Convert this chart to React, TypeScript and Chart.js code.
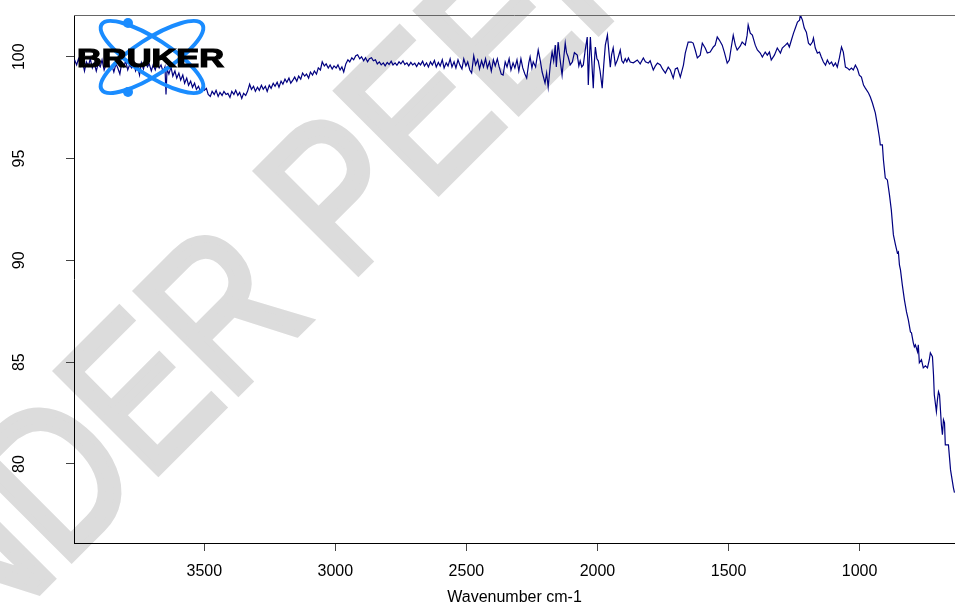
import React, { useEffect, useRef } from 'react';
import { Chart, registerables } from 'chart.js';

Chart.register(...registerables);

// ---- Axis ticks and labels ----
const xTickValues = [3500, 3000, 2500, 2000, 1500, 1000];
const yTickValues = [80, 85, 90, 95, 100];
const xAxisTitle = 'Wavenumber cm-1';
const watermarkText = 'UNDER PEER REVIEW';
const logoText = 'BRUKER';

// ---- Spectrum (wavenumber cm-1, transmittance %) ----
const spectrum4000to3400 = [
  [3995, 99.85], [3987, 99.6], [3980, 99.9], [3972, 99.55], [3965, 99.8], [3957, 99.3], [3950, 99.75], [3942, 99.55],
  [3935, 99.9], [3927, 99.45], [3920, 99.7], [3912, 99.3], [3905, 99.65], [3897, 99.5], [3890, 99.85], [3882, 99.35],
  [3875, 99.6], [3867, 99.75], [3860, 99.4], [3852, 99.55], [3845, 99.25], [3837, 99.65], [3830, 99.45], [3822, 99.15],
  [3815, 99.7], [3807, 99.5], [3800, 99.8], [3792, 99.35], [3785, 99.6], [3777, 99.45], [3770, 99.75], [3762, 99.3],
  [3755, 99.55], [3747, 99.1], [3740, 99.7], [3732, 99.4], [3725, 99.8], [3717, 99.5], [3710, 99.65], [3702, 99.3],
  [3695, 99.6], [3687, 99.35], [3680, 99.7], [3672, 99.45], [3665, 99.6], [3657, 99.25], [3650, 99.5], [3646, 98.15],
  [3642, 99.4], [3635, 99.15], [3627, 99.5], [3620, 99.05], [3612, 99.3], [3605, 98.95], [3597, 99.2], [3590, 98.85],
  [3582, 99.1], [3575, 98.7], [3567, 98.95], [3560, 98.6], [3552, 98.8], [3545, 98.5], [3537, 98.7], [3530, 98.4],
  [3522, 98.55], [3515, 98.3], [3507, 98.5], [3500, 98.35], [3492, 98.45], [3485, 98.15], [3477, 98.05], [3470, 98.3],
  [3462, 98.15], [3455, 98.35], [3447, 98.05], [3440, 98.25], [3432, 98.1], [3425, 98.3], [3417, 98.15], [3410, 98.2],
];

const spectrum3400to2850 = [
  [3402, 98.0], [3395, 98.3], [3387, 98.15], [3380, 98.35], [3372, 98.1], [3365, 98.25], [3357, 97.95], [3350, 98.2],
  [3342, 98.1], [3335, 98.3], [3327, 98.65], [3320, 98.4], [3312, 98.55], [3305, 98.3], [3297, 98.5], [3290, 98.35],
  [3282, 98.6], [3275, 98.4], [3267, 98.55], [3260, 98.3], [3252, 98.6], [3245, 98.45], [3237, 98.7], [3230, 98.55],
  [3222, 98.75], [3215, 98.5], [3207, 98.8], [3200, 98.65], [3192, 98.9], [3185, 98.75], [3177, 98.95], [3170, 98.7],
  [3162, 98.85], [3155, 99.0], [3147, 98.8], [3140, 99.05], [3132, 98.9], [3125, 99.2], [3117, 99.05], [3110, 99.15],
  [3102, 98.95], [3095, 99.25], [3087, 99.1], [3080, 99.3], [3072, 99.15], [3065, 99.45], [3057, 99.35], [3050, 99.75],
  [3042, 99.55], [3035, 99.65], [3027, 99.45], [3020, 99.6], [3012, 99.4], [3005, 99.55], [2997, 99.45], [2990, 99.6],
  [2982, 99.35], [2975, 99.5], [2968, 99.25], [2960, 99.65], [2952, 99.85], [2945, 99.75], [2937, 99.95], [2930, 99.85],
  [2922, 100.05], [2915, 100.1], [2907, 99.9], [2900, 100.0], [2892, 99.8], [2885, 99.95], [2877, 99.75], [2870, 99.9],
  [2862, 99.95], [2855, 99.8], [2847, 99.85],
];

const spectrum2850to2260 = [
  [2840, 99.65], [2832, 99.75], [2825, 99.6], [2817, 99.7], [2810, 99.55], [2802, 99.72], [2795, 99.62], [2787, 99.78],
  [2780, 99.6], [2772, 99.7], [2765, 99.58], [2757, 99.75], [2750, 99.65], [2742, 99.8], [2735, 99.62], [2727, 99.7],
  [2720, 99.55], [2712, 99.72], [2705, 99.6], [2697, 99.68], [2690, 99.52], [2682, 99.7], [2675, 99.6], [2667, 99.78],
  [2660, 99.55], [2652, 99.7], [2645, 99.5], [2637, 99.75], [2630, 99.6], [2622, 99.82], [2615, 99.5], [2607, 99.72],
  [2600, 99.55], [2592, 99.85], [2585, 99.45], [2577, 99.7], [2570, 99.55], [2562, 99.9], [2555, 99.5], [2547, 99.75],
  [2540, 99.45], [2532, 99.85], [2525, 99.6], [2517, 99.4], [2510, 99.9], [2502, 99.55], [2495, 99.75], [2487, 99.35],
  [2480, 99.2], [2472, 100.05], [2465, 99.6], [2457, 99.85], [2450, 99.4], [2442, 99.8], [2435, 99.5], [2427, 99.9],
  [2420, 99.45], [2412, 99.75], [2405, 99.3], [2397, 99.85], [2390, 99.55], [2382, 99.9], [2375, 99.5], [2367, 99.15],
  [2360, 99.1], [2352, 99.75], [2345, 99.5], [2337, 99.9], [2330, 99.35], [2322, 99.7], [2315, 99.45], [2307, 99.85],
  [2300, 99.3], [2292, 99.9], [2285, 99.45], [2277, 99.15], [2270, 98.95], [2262, 99.7],
];

const spectrum2260to1880 = [
  [2257, 99.99], [2250, 99.45], [2245, 99.75], [2236, 99.5], [2226, 100.33], [2218, 99.8], [2211, 99.25], [2200, 98.71],
  [2194, 99.2], [2188, 98.51], [2180, 99.6], [2173, 100.23], [2167, 99.8], [2161, 100.57], [2157, 99.5], [2150, 100.72],
  [2143, 99.9], [2135, 99.1], [2129, 99.9], [2123, 100.67], [2118, 100.2], [2112, 100.0], [2104, 99.6], [2096, 99.74],
  [2088, 100.2], [2077, 100.08], [2071, 99.55], [2066, 99.8], [2060, 99.5], [2054, 99.6], [2047, 100.3], [2039, 100.97],
  [2035, 98.61], [2031, 99.9], [2027, 100.97], [2021, 99.6], [2016, 98.46], [2012, 99.7], [2008, 100.48], [2002, 99.9],
  [1997, 99.8], [1990, 99.3], [1982, 98.46], [1976, 99.6], [1970, 100.57], [1962, 101.06], [1956, 100.2], [1951, 99.49],
  [1946, 100.1], [1940, 100.43], [1932, 99.6], [1924, 99.84], [1918, 100.1], [1913, 100.33], [1907, 99.8], [1901, 99.69],
  [1894, 99.9], [1888, 99.75], [1882, 99.94],
];

const spectrum1880to1660 = [
  [1875, 99.74], [1863, 99.7], [1848, 99.84], [1837, 99.65], [1825, 99.94], [1817, 99.75], [1806, 99.69], [1799, 99.8],
  [1787, 99.35], [1779, 99.55], [1771, 99.69], [1760, 99.6], [1752, 99.4], [1741, 99.2], [1730, 99.49], [1722, 99.35],
  [1711, 98.95], [1703, 99.4], [1695, 99.45], [1684, 99.0], [1672, 99.59], [1665, 100.18],
];

const spectrum1660to1000 = [
  [1654, 100.72], [1642, 100.72], [1635, 100.67], [1627, 100.33], [1619, 99.94], [1608, 100.08], [1600, 100.67], [1589, 100.43],
  [1581, 100.18], [1570, 100.23], [1558, 100.48], [1551, 100.57], [1543, 100.97], [1535, 100.82], [1524, 100.57], [1516, 100.23],
  [1505, 99.69], [1497, 99.84], [1490, 100.43], [1482, 101.06], [1474, 100.57], [1467, 100.33], [1455, 100.53], [1448, 100.72],
  [1436, 100.57], [1429, 101.06], [1425, 101.56], [1417, 101.16], [1409, 101.06], [1398, 100.57], [1390, 100.33], [1379, 100.18],
  [1371, 99.99], [1360, 100.23], [1352, 100.08], [1344, 100.23], [1337, 99.84], [1325, 100.08], [1314, 100.43], [1302, 100.18],
  [1295, 100.43], [1283, 100.57], [1275, 100.67], [1268, 100.48], [1260, 100.82], [1252, 101.16], [1245, 101.41], [1237, 101.7],
  [1229, 101.8], [1226, 102.05], [1218, 101.8], [1211, 101.41], [1203, 101.21], [1195, 100.67], [1188, 100.57], [1180, 100.72],
  [1176, 100.92], [1169, 100.43], [1161, 100.18], [1153, 100.23], [1146, 99.99], [1138, 99.74], [1130, 99.59], [1123, 99.84],
  [1115, 99.64], [1107, 99.74], [1100, 99.54], [1092, 99.69], [1085, 99.49], [1077, 99.94], [1069, 100.48], [1062, 100.23],
  [1054, 99.49], [1046, 99.44], [1039, 99.35], [1031, 99.44], [1024, 99.35], [1016, 99.59], [1008, 99.4], [1001, 99.1],
];

const spectrum1000to638 = [
  [993, 99.0], [985, 98.61], [978, 98.46], [966, 98.22], [959, 98.02], [951, 97.73], [940, 97.24], [932, 96.65],
  [924, 96.01], [921, 95.67], [913, 95.67], [909, 94.93], [902, 94.05], [894, 93.95], [886, 93.22], [879, 92.48],
  [871, 91.25], [863, 90.76], [856, 90.37], [852, 90.42], [848, 89.78], [844, 89.53], [837, 88.8], [829, 88.06],
  [821, 87.47], [814, 87.08], [806, 86.49], [802, 86.44], [795, 85.95], [791, 85.75], [787, 85.85], [779, 85.51],
  [776, 85.85], [772, 84.97], [764, 85.12], [757, 84.72], [749, 84.82], [741, 84.72], [734, 85.12], [730, 85.46],
  [722, 85.27], [718, 84.38], [715, 83.4], [707, 82.57], [703, 83.16], [699, 83.55], [695, 83.4], [688, 81.93],
  [684, 81.44], [680, 82.17], [676, 82.02], [673, 80.94], [665, 80.94], [661, 80.94], [653, 79.71], [650, 79.47],
  [642, 78.83], [638, 78.59],
];

const spectrumSegments = [
  spectrum4000to3400, spectrum3400to2850, spectrum2850to2260, spectrum2260to1880,
  spectrum1880to1660, spectrum1660to1000, spectrum1000to638,
];

const FONT = "'Liberation Sans', Arial, Helvetica, sans-serif";

const decorPlugin = {
  id: 'decor',
  beforeDraw(chart: any) {
    const ctx = chart.ctx as CanvasRenderingContext2D;
    ctx.save();
    ctx.fillStyle = '#ffffff';
    ctx.fillRect(0, 0, chart.width, chart.height);
    // watermark
    ctx.translate(-112, 742);
    ctx.rotate(-Math.PI / 4);
    ctx.scale(0.82, 1);
    ctx.font = `207px ${FONT}`;
    ctx.fillStyle = '#dcdcdc';
    ctx.strokeStyle = '#dcdcdc';
    ctx.lineWidth = 8;
    ctx.lineJoin = 'miter';
    ctx.textBaseline = 'alphabetic';
    ctx.textAlign = 'left';
    ctx.fillText(watermarkText, 0, 0);
    ctx.strokeText(watermarkText, 0, 0);
    ctx.restore();
  },
  afterDraw(chart: any) {
    const ctx = chart.ctx as CanvasRenderingContext2D;
    const area = chart.chartArea;
    ctx.save();
    // top frame line
    ctx.strokeStyle = '#666666';
    ctx.lineWidth = 1;
    ctx.beginPath();
    ctx.moveTo(area.left, area.top + 0.5);
    ctx.lineTo(area.right, area.top + 0.5);
    ctx.stroke();

    // Bruker logo
    const blue = '#1a8cff';
    ctx.strokeStyle = blue;
    ctx.lineWidth = 4;
    for (const ang of [33, -33]) {
      ctx.beginPath();
      ctx.ellipse(152, 57, 60, 18, (ang * Math.PI) / 180, 0, Math.PI * 2);
      ctx.stroke();
    }
    ctx.fillStyle = blue;
    for (const [cx, cy] of [[128, 23], [128, 92]]) {
      ctx.beginPath();
      ctx.arc(cx, cy, 5, 0, Math.PI * 2);
      ctx.fill();
    }
    ctx.font = `bold 26px ${FONT}`;
    const w = ctx.measureText(logoText).width;
    ctx.translate(77, 67);
    ctx.scale(147 / w, 1);
    ctx.fillStyle = '#000';
    ctx.strokeStyle = '#000';
    ctx.lineWidth = 1.2;
    ctx.textBaseline = 'alphabetic';
    ctx.textAlign = 'left';
    ctx.fillText(logoText, 0, 0);
    ctx.strokeText(logoText, 0, 0);
    ctx.restore();
  },
};

export default function App() {
  const ref = useRef<HTMLCanvasElement>(null);
  useEffect(() => {
    const canvas = ref.current;
    if (!canvas) return;
    const points = spectrumSegments.flat().map(([x, y]) => ({ x, y }));
    const chart = new Chart(canvas, {
      type: 'line',
      data: {
        datasets: [
          {
            data: points,
            borderColor: '#000080',
            borderWidth: 1.2,
            pointRadius: 0,
            tension: 0,
            fill: false,
          },
        ],
      },
      options: {
        responsive: false,
        animation: false,
        devicePixelRatio: 1,
        layout: { padding: { top: 15, right: 0, left: 0, bottom: 0 } },
        plugins: { legend: { display: false }, tooltip: { enabled: false }, title: { display: false } },
        scales: {
          x: {
            type: 'linear',
            reverse: true,
            min: 636,
            max: 3997,
            afterBuildTicks: (s: any) => {
              s.ticks = xTickValues.map((v) => ({ value: v }));
            },
            afterFit: (s: any) => {
              s.height = 65;
              s.paddingLeft = 0;
              s.paddingRight = 0;
            },
            grid: { drawOnChartArea: false, drawTicks: true, tickLength: 8, tickColor: '#444', tickWidth: 1 },
            border: { display: true, color: '#000', width: 1 },
            ticks: {
              autoSkip: false,
              maxRotation: 0,
              padding: 11,
              color: '#000',
              font: { family: FONT, size: 16 },
              callback: (v: any) => String(v),
            },
            title: {
              display: true,
              text: xAxisTitle,
              color: '#000',
              font: { family: FONT, size: 16, lineHeight: 1.2 },
              padding: { top: 0, bottom: 1 },
            },
          },
          y: {
            type: 'linear',
            min: 76.12,
            max: 102.05,
            afterBuildTicks: (s: any) => {
              s.ticks = yTickValues.map((v) => ({ value: v }));
            },
            afterFit: (s: any) => {
              s.width = 74;
              s.paddingTop = 0;
              s.paddingBottom = 0;
            },
            grid: { drawOnChartArea: false, drawTicks: true, tickLength: 8, tickColor: '#444', tickWidth: 1 },
            border: { display: true, color: '#000', width: 1 },
            ticks: {
              autoSkip: false,
              minRotation: 90,
              maxRotation: 90,
              crossAlign: 'center',
              padding: 33,
              color: '#000',
              font: { family: FONT, size: 16 },
              callback: (v: any) => String(v),
            },
          },
        },
      },
      plugins: [decorPlugin],
    } as any);
    return () => chart.destroy();
  }, []);

  return (
    <div style={{ position: 'fixed', left: 0, top: 0, width: 955, height: 608, background: '#fff' }}>
      <canvas ref={ref} width={955} height={608} style={{ display: 'block', width: 955, height: 608 }} />
    </div>
  );
}
